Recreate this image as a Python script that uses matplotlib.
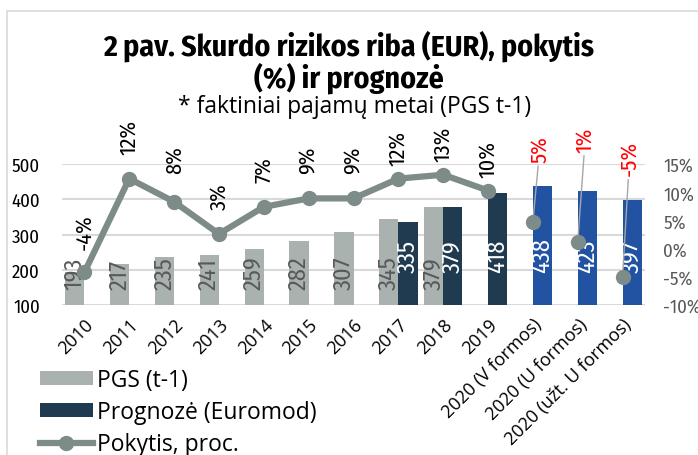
import numpy as np
import matplotlib
matplotlib.use("Agg")
import matplotlib.pyplot as plt
from matplotlib.patches import Rectangle

# duomenys
years = ["2010", "2011", "2012", "2013", "2014", "2015", "2016", "2017", "2018",
         "2019", "2020 (V formos)", "2020 (U formos)", "2020 (užt. U formos)"]
pgs = [193, 217, 235, 241, 259, 282, 307, 345, 379, np.nan, np.nan, np.nan, np.nan]
prognoze = [np.nan] * 7 + [335, 379, 418, 438, 423, 397]
pokytis = [-4.2, 12.4, 8.3, 2.6, 7.4, 8.9, 8.9, 12.4, 13.1, 10.3, 4.8, 1.2, -5.0]

plt.rcParams["font.family"] = ["Fira Sans Condensed", "DejaVu Sans"]
wide_font = ["Open Sans", "DejaVu Sans"]

c_pgs = "#A9B2AF"
c_dark = "#203A4F"
c_blue = "#2253A3"
c_line = "#7D8C88"

fig = plt.figure(figsize=(6.98, 4.56), dpi=100)
ax = fig.add_axes([62 / 698, 1 - 306 / 456, 583 / 698, 141 / 456])
ax2 = ax.twinx()

x = np.arange(len(years))
w = 0.43
ax.bar(x - w / 2, pgs, w, color=c_pgs, label="PGS (t-1)", zorder=2)
prog_colors = [c_dark] * 10 + [c_blue] * 3
ax.bar(x + w / 2, prognoze, w, color=prog_colors, label="Prognozė (Euromod)", zorder=2)

# etiketės stulpeliuose
for i in range(len(years)):
    if not np.isnan(pgs[i]):
        ax.text(x[i] - w / 2, 145, f"{pgs[i]:.0f}", rotation=90, ha="center", va="bottom",
                fontsize=17.5, color="#595959", zorder=3)
    if not np.isnan(prognoze[i]):
        ax.text(x[i] + w / 2, 195, f"{prognoze[i]:.0f}", rotation=90, ha="center", va="bottom",
                fontsize=17.5, color="white", zorder=3)

ax.set_ylim(100, 500)
ax.set_xlim(-0.5, len(years) - 0.5)
ax.set_yticks([100, 200, 300, 400, 500])
ax.grid(axis="y", color="#D9D9D9", lw=1.5, zorder=0)
ax.set_axisbelow(True)
for s in ax.spines.values():
    s.set_visible(False)
for s in ax2.spines.values():
    s.set_visible(False)
ax.tick_params(axis="y", length=0, labelsize=13.5, pad=16)
ax.tick_params(axis="x", length=0, pad=7)
ax.set_xticks(x)
ax.set_xticklabels(years, rotation=45, ha="right", rotation_mode="anchor", fontsize=13,
                   family=wide_font)

# pokytis
ax2.plot(x[:10], pokytis[:10], color=c_line, lw=4.5, marker="o", ms=10, zorder=5,
         label="Pokytis, proc.")
ax2.plot(x[10:], pokytis[10:], ls="none", color=c_line, marker="o", ms=10, zorder=5)
ax2.set_ylim(-10, 15)
ax2.set_yticks([-10, -5, 0, 5, 10, 15])
ax2.set_yticklabels([f"{v}%" for v in [-10, -5, 0, 5, 10, 15]])
ax2.tick_params(axis="y", length=0, labelsize=13.5, labelcolor="#595959", pad=13)

# etikečių atstumas nuo taško (pt)
lift = [17, 18, 21, 18, 18, 18, 18, 10, 10, 10]
for i in range(10):
    ax2.annotate(f"{pokytis[i]:.0f}%", (x[i], pokytis[i]), xytext=(0, lift[i]),
                 textcoords="offset points", rotation=90, ha="center", va="bottom",
                 fontsize=16, annotation_clip=False)
offsets = [(5, 43), (5.4, 65), (5, 73)]
for j, i in enumerate(range(10, 13)):
    ax2.annotate(f"{pokytis[i]:.0f}%", (x[i], pokytis[i]), xytext=offsets[j],
                 textcoords="offset points", rotation=90, ha="center", va="bottom",
                 fontsize=16, color="red", annotation_clip=False,
                 arrowprops=dict(arrowstyle="-", color="#A6A6A6", lw=1, shrinkA=1, shrinkB=0))

# pavadinimas
fig.text(0.5, 1 - 46 / 456, "2 pav. Skurdo rizikos riba (EUR), pokytis", ha="center", va="center",
         fontsize=21.5, fontweight="bold")
fig.text(0.5, 1 - 78 / 456, "(%) ir prognozė", ha="center", va="center",
         fontsize=21.5, fontweight="bold")
fig.text(355 / 698, 1 - 107 / 456, "* faktiniai pajamų metai (PGS t-1)", ha="center", va="center",
         fontsize=16.5, family=wide_font)

h1, l1 = ax.get_legend_handles_labels()
h2, l2 = ax2.get_legend_handles_labels()
fig.legend(h1 + h2, l1 + l2, loc="upper left", bbox_to_anchor=(40 / 698, 1 - 369 / 456),
           frameon=False, prop={"family": wide_font, "size": 16.5}, handlelength=2.3,
           handleheight=0.6, handletextpad=0.2, labelspacing=0.36, borderpad=0, borderaxespad=0)

fig.patches.append(Rectangle((7 / 698, -0.1), 1.1, 1.1 - 12 / 456,
                             transform=fig.transFigure, fill=False, ec="#D9D9D9", lw=1.2))

fig.savefig("out.png", dpi=100)
